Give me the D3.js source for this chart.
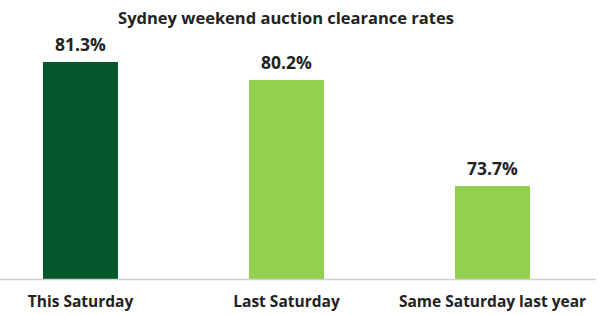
<!DOCTYPE html>
<html>
<head>
<meta charset="utf-8">
<script src="https://cdn.jsdelivr.net/npm/d3@7"></script>
<style>
  body { margin: 0; background: #fff; }
  text { font-family: "Open Sans", sans-serif; font-weight: bold; fill: #222; }
</style>
</head>
<body>
<svg id="chart" width="600" height="315"></svg>
<script>
var categories = ["This Saturday", "Last Saturday", "Same Saturday last year"];
var rates = [81.3, 80.2, 73.7];
var barColors = ["#03572a", "#92d050", "#92d050"];

var svg = d3.select("#chart");
var width = +svg.attr("width");

var x = d3.scaleBand()
    .domain(categories)
    .range([-22.5, 595.5])
    .paddingInner(0.636)
    .paddingOuter(0.318);

var y = d3.scaleLinear()
    .domain([68, 85])
    .range([279, 1.6]);

// title
svg.append("text")
    .attr("x", 286)
    .attr("y", 24)
    .attr("text-anchor", "middle")
    .attr("font-size", "16.5px")
    .text("Sydney weekend auction clearance rates");

svg.selectAll("rect.bar")
    .data(rates)
    .enter()
    .append("rect")
    .attr("class", "bar")
    .attr("x", function (d, i) { return x(categories[i]); })
    .attr("width", x.bandwidth())
    .attr("y", function (d) { return y(d); })
    .attr("height", function (d) { return y(68) - y(d); })
    .attr("fill", function (d, i) { return barColors[i]; });

svg.selectAll("text.val")
    .data(rates)
    .enter()
    .append("text")
    .attr("class", "val")
    .attr("x", function (d, i) { return x(categories[i]) + x.bandwidth() / 2; })
    .attr("y", function (d) { return y(d) - 11; })
    .attr("text-anchor", "middle")
    .attr("font-size", "17.5px")
    .text(function (d) { return d.toFixed(1) + "%"; });

// baseline
svg.append("line")
    .attr("x1", 0)
    .attr("x2", 596)
    .attr("y1", y(68) + 0.5)
    .attr("y2", y(68) + 0.5)
    .attr("stroke", "#d0d0d0")
    .attr("stroke-width", 1.5);

svg.selectAll("text.cat")
    .data(categories)
    .enter()
    .append("text")
    .attr("class", "cat")
    .attr("x", function (d) { return x(d) + x.bandwidth() / 2; })
    .attr("y", 307)
    .attr("text-anchor", "middle")
    .attr("font-size", "15.5px")
    .text(function (d) { return d; });
</script>
</body>
</html>
